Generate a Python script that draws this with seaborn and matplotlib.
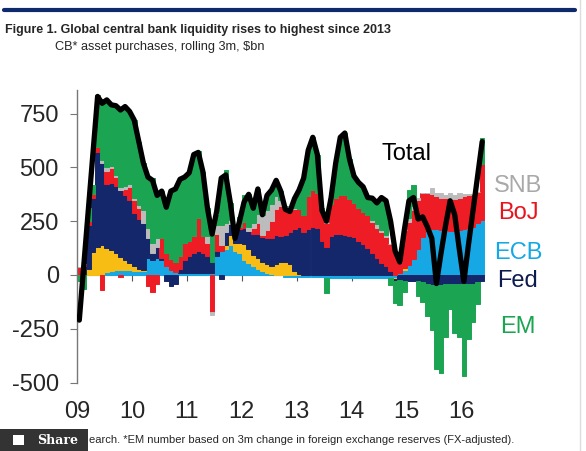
import numpy
import pandas
import seaborn as sea
from matplotlib import font_manager, pyplot
from matplotlib.lines import Line2D
from matplotlib.patches import Rectangle

# monthly values, Jan 2009 .. May 2016, $bn (rolling 3m asset purchases)
years = ["09", "10", "11", "12", "13", "14", "15", "16"]

ecb = [0, 0, 0, 0, 0, 0, 15, 20, 25, 25, 25, 25,
       20, 20, 20, 80, 70, 80, 70, 40, 25, 15, 10, 10,
       10, 10, 10, 10, 10, 10, 90, 110, 120, 140, 110, 100,
       70, 55, 40, 30, 20, 10, 5, 0, 0, -10, -10, -10,
       -10, -10, -10, -10, -10, -10, -15, -15, -15, -15, -15, -15,
       -15, -15, -15, -15, -15, -15, -15, -15, -15, -15, 10, 25,
       45, 75, 120, 175, 205, 215, 215, 210, 210, 205, 205, 210,
       215, 220, 225, 240, 255]
boe = [0, 0, 30, 108, 130, 140, 110, 96, 75, 60, 45, 30,
       20, 10, 5, 0, 0, 0, 0, 0, 0, 0, 0, 0,
       0, 0, 0, 0, 0, 0, 0, 0, 20, 45, 40, 50,
       75, 65, 55, 47, 42, 40, 35, 50, 60, 60, 50, 20,
       5, 0, 0, 0, 0, 0, 0, 0, 0, 0, 0, 0,
       0, 0, 0, 0, 0, 0, 0, 0, 0, -5, 0, 8,
       0, 0, 0, 0, 0, 0, 0, 0, 0, 0, 0, 0,
       0, 0, 0, 0, 0]
fed = [0, 40, 200, 250, 444, 380, 300, 310, 315, 310, 302, 294,
       250, 230, 215, 90, 30, 50, 10, -30, -50, -40, 20, 60,
       80, 90, 100, 90, 80, 50, 20, -20, 60, 50, 30, 65,
       75, 85, 95, 115, 115, 120, 130, 135, 120, 125, 150, 195,
       220, 200, 215, 225, 220, 160, 130, 180, 190, 190, 185, 180,
       175, 160, 145, 125, 100, 80, 55, 40, 20, -10, -25, -30,
       -30, -30, -30, -35, -40, -45, -45, -45, -40, -40, -40, -40,
       -40, -40, -40, -35, -30]
boj = [35, 10, 20, 20, 23, -70, 60, 70, 40, -10, 30, 62,
       60, 50, 0, -50, -80, -40, 90, 60, 50, 45, 60, 80,
       70, 80, 155, 80, 60, -170, 80, 30, 0, 0, 0, 10,
       25, 0, 30, 50, 10, 40, 80, 120, 140, 120, 100, 90,
       80, 80, 150, 170, 160, 130, 110, 150, 170, 180, 185, 175,
       160, 150, 150, 155, 145, 140, 145, 135, 125, 110, 50, 175,
       200, 225, 230, 205, 175, 160, 150, 150, 150, 155, 150, 150,
       150, 150, 150, 145, 260]
snb = [0, 0, 0, 0, 0, 15, 15, 10, 10, 15, 10, 10,
       10, 15, 60, 50, 50, 40, 0, 0, 0, 0, 0, 0,
       0, 0, 0, 0, 30, -15, 40, 90, 40, 20, 0, 0,
       0, 20, 20, 40, 90, 90, 80, 60, 30, 15, 10, 5,
       0, 0, 0, 0, 0, 0, 0, 0, 0, 0, 0, 0,
       0, 0, 0, 0, 10, 15, 10, 10, 0, 0, 0, 0,
       20, 20, 10, 0, 0, 30, 15, 20, 10, 20, 15, 20,
       10, 5, 0, 0, 0]
em = [-30, -65, 60, 42, 240, 285, 300, 290, 322, 357, 369, 339,
      360, 295, 220, 235, 300, 200, 220, 215, 315, 340, 355, 305,
      315, 380, 310, 300, 130, 130, 50, 210, 250, 80, 0, 45,
      125, 150, 70, 118, 10, 70, 65, 75, 40, 0, 0, 45,
      90, 170, 215, 245, 180, 20, -70, 40, 160, 270, 290, 185,
      125, 120, 115, 80, 100, 100, 150, 160, -30, -100, -115, -50,
      130, 100, -70, -90, -150, -210, -390, -410, -250, -120, -230, -250,
      -430, -260, -180, -100, 120]
total = [-210, 50, 310, 570, 830, 798, 814, 791, 787, 767, 783, 760,
         720, 620, 520, 455, 440, 370, 390, 315, 390, 400, 445, 455,
         475, 560, 570, 480, 310, 190, 295, 450, 465, 335, 170, 250,
         340, 375, 310, 400, 280, 370, 395, 440, 390, 305, 295, 355,
         395, 450, 580, 640, 560, 300, 250, 360, 520, 640, 660, 540,
         460, 430, 410, 360, 357, 335, 360, 345, 250, 110, 60, 210,
         345, 360, 260, 270, 225, 170, -40, 100, 230, 345, 280, 120,
         -30, 140, 300, 460, 620]

series = [
    ("ECB", ecb, "#16a8e4"),
    ("BoE", boe, "#f8bd14"),
    ("Fed", fed, "#14276a"),
    ("BoJ", boj, "#ee1c25"),
    ("SNB", snb, "#bcbcbc"),
    ("EM", em, "#1ba552"),
]

sea.set_style("ticks")
installed = {f.name for f in font_manager.fontManager.ttflist}
narrow = "Liberation Sans Narrow" if "Liberation Sans Narrow" in installed else "Liberation Sans"
pyplot.rcParams["font.family"] = ["Liberation Sans", "DejaVu Sans"]
pyplot.rcParams["axes.unicode_minus"] = False

n = len(total)
months = numpy.arange(n)

figure = pyplot.figure(figsize=(5.86, 4.51), dpi=100)
axis = figure.add_axes([77 / 586, 1 - 382.5 / 451, 467 / 586, 292.5 / 451])

# stack positives upwards and negatives downwards, like the original
pos_base = numpy.zeros(n)
neg_base = numpy.zeros(n)
for name, values, color in series:
    v = numpy.asarray(values, dtype=float)
    bottom = numpy.where(v >= 0, pos_base, neg_base)
    axis.bar(months, v, width=1.0, bottom=bottom, align="edge", color=color,
             edgecolor=color, linewidth=0.7, zorder=1)
    pos_base += numpy.clip(v, 0, None)
    neg_base += numpy.clip(v, None, 0)

frame = pandas.DataFrame({"month": months + 0.5, "total": total})
sea.lineplot(data=frame, x="month", y="total", ax=axis, color="black",
             linewidth=3.8, solid_joinstyle="round", solid_capstyle="round",
             zorder=3)

axis.set_xlim(0, 102)
axis.set_ylim(-500, 860)
axis.set_xlabel("")
axis.set_ylabel("")

axis.spines["top"].set_visible(False)
axis.spines["right"].set_visible(False)
axis.spines["bottom"].set_position(("data", 0))
axis.spines["bottom"].set_bounds(0, n)
axis.spines["bottom"].set_color("#555555")
axis.spines["bottom"].set_linewidth(0.8)
axis.spines["bottom"].set_zorder(0.5)
axis.spines["left"].set_color("#777777")
axis.spines["left"].set_linewidth(1.0)

axis.set_xticks(numpy.arange(0, 96, 12))
axis.set_xticklabels(years)
axis.set_yticks([-500, -250, 0, 250, 500, 750])
axis.tick_params(axis="x", direction="out", length=4, width=0.8,
                 color="#555555", pad=87, labelsize=17)
axis.tick_params(axis="y", direction="out", length=5, width=0.8,
                 color="#777777", pad=8, labelsize=17)

# series labels on the right
label_x = 96.3
axis.text(label_x, 414, "SNB", color="#a9a9a9", fontsize=17, ha="center", va="center")
axis.text(label_x, 288, "BoJ", color="#e8141c", fontsize=17, ha="center", va="center")
axis.text(label_x, 100, "ECB", color="#14a8e4", fontsize=17, ha="center", va="center")
axis.text(label_x, -28, "Fed", color="#0e1b4f", fontsize=17, ha="center", va="center")
axis.text(label_x, -240, "EM", color="#1ba552", fontsize=17, ha="center", va="center")
axis.text(72, 563, "Total", color="black", fontsize=17, ha="center", va="center")

# header and footer
figure.add_artist(Line2D([4 / 586, 575 / 586], [1 - 10 / 451] * 2,
                         color="#0d2a6a", linewidth=3))
figure.add_artist(Line2D([580 / 586] * 2, [0, 1], color="#dddddd", linewidth=1))
figure.text(5 / 586, 1 - 30 / 451,
            "Figure 1. Global central bank liquidity rises to highest since 2013",
            family=[narrow, "DejaVu Sans"], fontweight="bold", fontsize=9,
            va="center", ha="left")
figure.text(55 / 586, 1 - 47 / 451, r"CB* asset purchases, rolling 3m, \$bn",
            family=[narrow, "DejaVu Sans"], fontsize=9.2, va="center", ha="left")
figure.text(89 / 586, 1 - 440 / 451,
            "earch. *EM number based on 3m change in foreign exchange reserves (FX-adjusted).",
            family=[narrow, "DejaVu Sans"], fontsize=8, va="center", ha="left")
figure.add_artist(Rectangle((0, 0), 88 / 586, 22 / 451, transform=figure.transFigure,
                            facecolor="#333333", edgecolor="none"))
figure.add_artist(Rectangle((13 / 586, 6 / 451), 11 / 586, 10 / 451,
                            transform=figure.transFigure, facecolor="white",
                            edgecolor="none"))
figure.text(37 / 586, 1 - 441 / 451, "Share", family=["DejaVu Serif"],
            fontweight="bold", fontsize=9, color="white", va="center", ha="left")

figure.savefig("out.png", dpi=100)
